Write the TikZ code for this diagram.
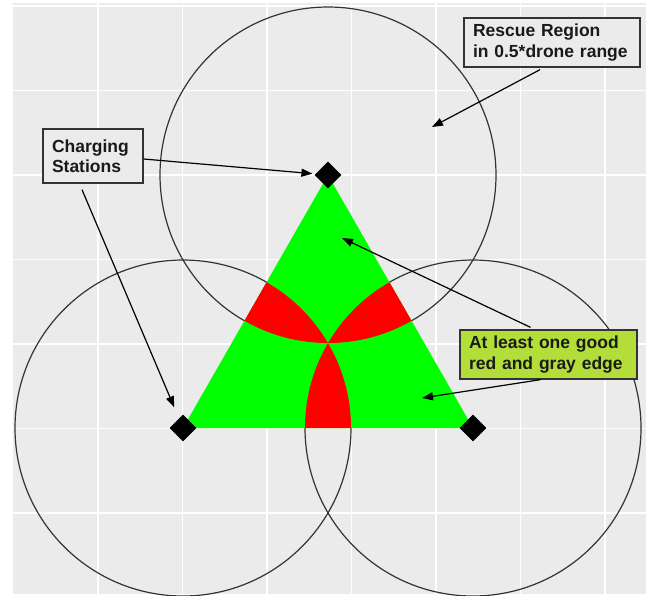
\documentclass[tikz,border=0pt]{standalone}
\usepackage{fontspec}
\setmainfont{Liberation Sans}
\usetikzlibrary{shapes.geometric,arrows.meta,positioning}

\definecolor{panel}{HTML}{EBEBEB}
\definecolor{ink}{HTML}{1A1A1A}
\definecolor{edgegray}{HTML}{333333}
\definecolor{goodgreen}{HTML}{B3DE3A}
\definecolor{zonegreen}{HTML}{00FF00}
\definecolor{zonered}{HTML}{FF0000}

\newcommand\Rad{168pt}

\tikzset{
  station/.style={
    shape = diamond,
    fill = black,
    inner sep = 0pt,
    minimum size = 27pt
  },
  rangecircle/.style={
    draw = edgegray,
    line width = 1.2pt
  },
  labelbox/.style={
    draw = edgegray,
    line width = 1.3pt,
    fill = panel,
    text = ink,
    align = left,
    inner xsep = 9pt,
    inner ysep = 6pt,
    font = \fontsize{17.5}{20.5}\selectfont\bfseries
  },
  pointer/.style={
    -{Triangle[length=11pt,width=8pt]},
    line width = 1.2pt,
    black
  },
  gridline/.style={
    white,
    line width = 1.4pt
  }
}

\begin{document}
\begin{tikzpicture}[x=1pt,y=-1pt]
  \useasboundingbox (0,0) rectangle (653,595);
  \fill[panel] (13,3) rectangle (646,594);
  \foreach \gx in {98,182.5,...,606}
    \draw[gridline] (\gx,3) -- (\gx,594);
  \foreach \gy in {6,90.5,...,514}
    \draw[gridline] (13,\gy) -- (646,\gy);

  \coordinate (pa) at (328,175);
  \coordinate (pb) at (183,428);
  \coordinate (pc) at (473,428);

  % rescue regions
  \foreach \p in {pa,pb,pc}
    \draw[rangecircle] (\p) circle[radius=\Rad];

  \fill[zonegreen] (pa) -- (pb) -- (pc) -- cycle;
  \begin{scope}
    \clip (pa) -- (pb) -- (pc) -- cycle;
    \foreach \p/\q in {pa/pb,pb/pc,pc/pa}{
      \begin{scope}
        \clip (\p) circle[radius=\Rad];
        \fill[zonered] (\q) circle[radius=\Rad];
      \end{scope}
    }
  \end{scope}

  \node[station] (sa) at (pa) {};
  \node[station] (sb) at (pb) {};
  \node[station] (sc) at (pc) {};

  \node[labelbox, text width=158pt, minimum height=49pt] (rescue) at (552,42.5) {Rescue Region\\in 0.5*drone range};
  \node[labelbox, text width=82pt, minimum height=54pt] (charge) at (93,156) {Charging\\Stations};
  \node[labelbox, fill=goodgreen, text width=159pt, minimum height=49pt] (good) at (548.5,354.5) {At least one good\\red and gray edge};

  \coordinate (rtip) at (432,127);
  \coordinate (gtipa) at (342,238);
  \coordinate (gtipb) at (422,398);

  \draw[pointer] ([xshift=-12pt,yshift=-2pt]rescue.south) -- (rtip);
  \draw[pointer, shorten >=3pt] ([yshift=-3pt]charge.east) -- (sa);
  \draw[pointer, shorten >=12pt] ([xshift=-11pt,yshift=-6pt]charge.south) -- (sb);
  \draw[pointer] ([xshift=-18pt,yshift=2pt]good.north) -- (gtipa);
  \draw[pointer] ([xshift=-8pt]good.south) -- (gtipb);
\end{tikzpicture}
\end{document}
